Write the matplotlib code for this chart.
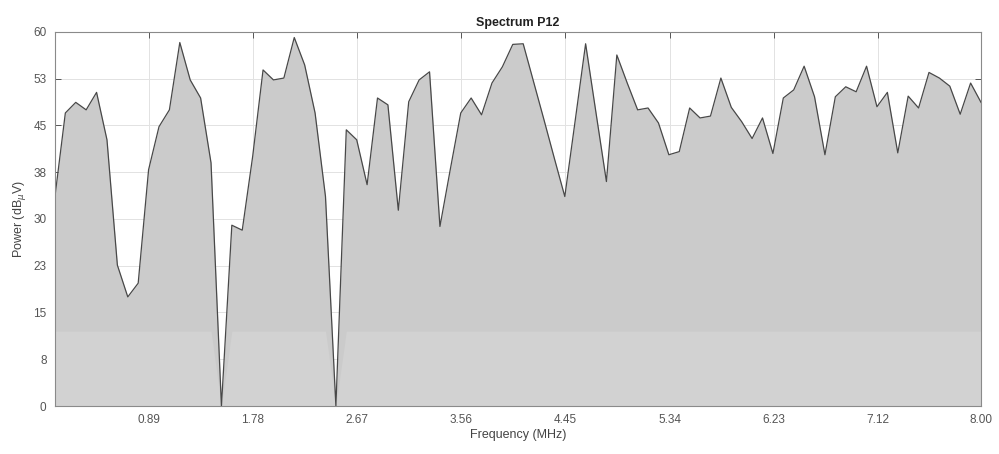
import numpy as np
import matplotlib
matplotlib.use("Agg")
import matplotlib.pyplot as plt

plt.rcParams["font.family"] = ["Liberation Sans", "DejaVu Sans"]

# spectrum samples, 90 bins up to 8 MHz
freq_mhz = np.linspace(8 / 90, 8.0, 90)
power_dbuv = [
    33.6, 47.0, 48.7, 47.5, 50.3, 42.7, 22.6, 17.5, 19.7, 37.9,
    44.8, 47.5, 58.3, 52.3, 49.4, 39.0, 0.0, 29.0, 28.2, 40.0,
    53.9, 52.3, 52.6, 59.1, 54.7, 47.0, 33.6, 0.0, 44.3, 42.7,
    35.5, 49.4, 48.3, 31.4, 48.8, 52.3, 53.6, 28.8, 38.0, 47.0,
    49.4, 46.7, 51.8, 54.4, 58.0, 58.1, 52.0, 45.9, 39.7, 33.6,
    45.8, 58.1, 47.0, 36.0, 56.3, 51.8, 47.5, 47.8, 45.4, 40.3,
    40.8, 47.8, 46.2, 46.5, 52.6, 47.9, 45.6, 42.9, 46.2, 40.5,
    49.4, 50.7, 54.5, 49.6, 40.3, 49.6, 51.2, 50.4, 54.5, 48.0,
    50.3, 40.6, 49.7, 47.8, 53.5, 52.6, 51.3, 46.8, 51.8, 48.7,
]

x_ticks = [0.89, 1.78, 2.67, 3.56, 4.45, 5.34, 6.23, 7.12, 8.00]
x_labels = ["0.89", "1.78", "2.67", "3.56", "4.45", "5.34", "6.23", "7.12", "8.00"]
y_ticks = [0, 7.5, 15, 22.5, 30, 37.5, 45, 52.5, 60]
y_labels = ["0", "8", "15", "23", "30", "38", "45", "53", "60"]

power = np.array(power_dbuv)

fig = plt.figure(figsize=(9.99, 4.54), dpi=100)
ax = fig.add_axes([0.055, 0.1057, 0.927, 0.824])

ax.fill_between(freq_mhz, 0, power, color="#cbcbcb", linewidth=0, zorder=1)
ax.fill_between(freq_mhz, 0, np.minimum(power, 12.0), color="#d2d2d2",
                linewidth=0, zorder=1.1)
ax.plot(freq_mhz, power, color="#484848", linewidth=0.9, zorder=2)

ax.set_xlim(freq_mhz[0], 8.0)
ax.set_ylim(0, 60)
ax.set_xticks(x_ticks)
ax.set_xticklabels(x_labels)
ax.set_yticks(y_ticks)
ax.set_yticklabels(y_labels)

ax.set_axisbelow(True)
ax.grid(True, color="#e2e2e2", linewidth=0.7)
ax.tick_params(direction="in", length=4, width=0.7, top=True, right=True,
               colors="#555555", labelsize=8.5, pad=6)
for s in ax.spines.values():
    s.set_color("#8a8a8a")
    s.set_linewidth(0.8)

ax.set_title("Spectrum P12", fontsize=9, fontweight="bold", color="#222222", pad=4)
ax.set_xlabel("Frequency (MHz)", fontsize=9, color="#444444", labelpad=2)
ax.set_ylabel(r"Power (dB$_{\mu}$V)", fontsize=9, color="#444444", labelpad=4)

fig.savefig("out.png", dpi=100, facecolor="white")
